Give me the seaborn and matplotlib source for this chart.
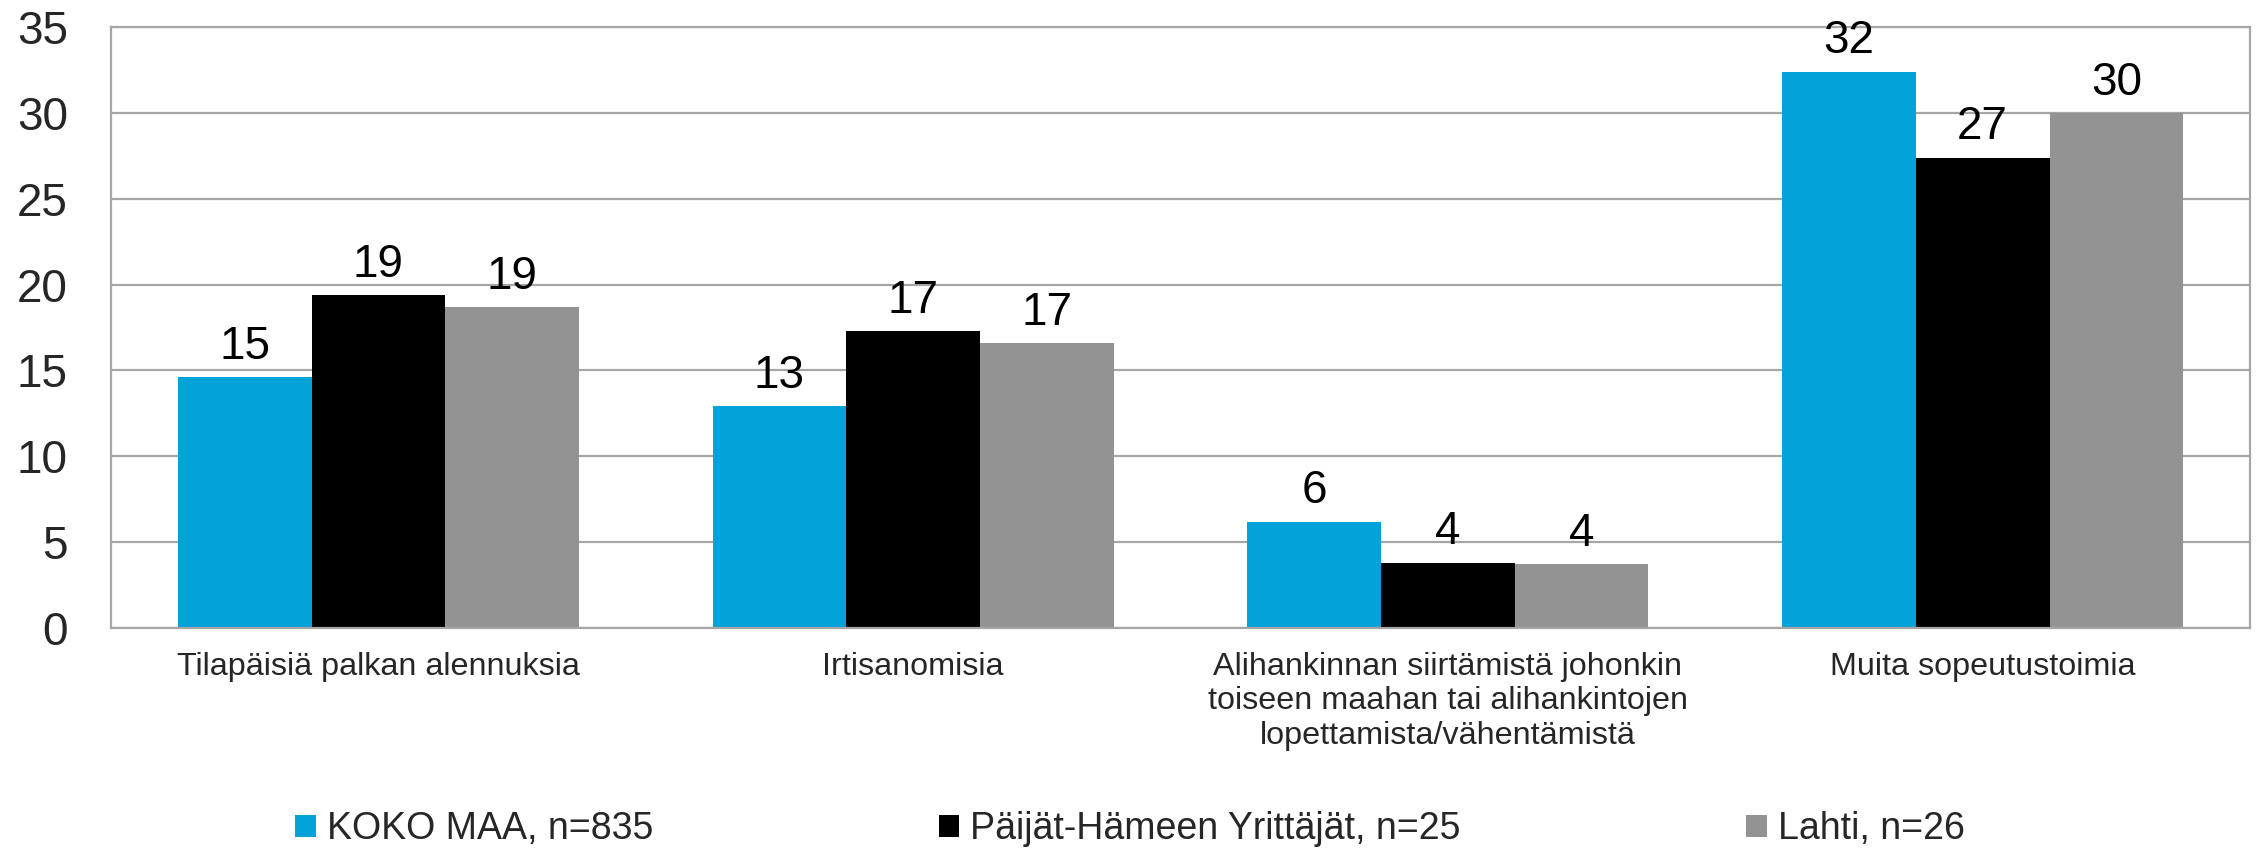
import matplotlib
matplotlib.use('Agg')
import matplotlib.pyplot as plt
import seaborn as sns
import pandas as pd

# Chart data
categories = [
    'Tilapäisiä palkan alennuksia',
    'Irtisanomisia',
    'Alihankinnan siirtämistä johonkin\ntoiseen maahan tai alihankintojen\nlopettamista/vähentämistä',
    'Muita sopeutustoimia',
]
series_names = ['KOKO MAA, n=835', 'Päijät-Hämeen Yrittäjät, n=25', 'Lahti, n=26']
koko_maa = [14.6, 12.9, 6.2, 32.4]
paijat_hame = [19.4, 17.3, 3.8, 27.4]
lahti = [18.7, 16.6, 3.7, 30.0]
y_ticks = [0, 5, 10, 15, 20, 25, 30, 35]

colors = ['#03A3D9', '#000000', '#939393']
grid_color = '#A6A6A6'

# Long format for seaborn
rows = []
for name, vals in zip(series_names, [koko_maa, paijat_hame, lahti]):
    for cat, v in zip(categories, vals):
        rows.append({'Kategoria': cat, 'Sarja': name, 'Arvo': v})
df = pd.DataFrame(rows)

sns.set_style('white')
plt.rcParams['font.family'] = ['Liberation Sans', 'DejaVu Sans']

fig = plt.figure(figsize=(22.6, 8.52), dpi=100)
ax = fig.add_axes([0.0491, 0.2629, 0.9465, 0.7054])

sns.barplot(data=df, x='Kategoria', y='Arvo', hue='Sarja', order=categories,
            hue_order=series_names, palette=colors, width=0.75, gap=0,
            saturation=1, errorbar=None, linewidth=0, ax=ax)

# Value labels above bars
for cont in ax.containers:
    ax.bar_label(cont, labels=[f"{round(b.get_height())}" for b in cont],
                 padding=6, fontsize=33, color='black')

ax.set_ylim(0, 35)
ax.set_xlim(-0.5, 3.5)
ax.set_yticks(y_ticks)
ax.set_yticklabels([str(t) for t in y_ticks])
ax.yaxis.grid(True, color=grid_color, linewidth=1.6)
ax.set_axisbelow(True)
ax.set_xlabel('')
ax.set_ylabel('')

for side in ['left', 'bottom', 'right', 'top']:
    ax.spines[side].set_visible(True)
    ax.spines[side].set_color(grid_color)
    ax.spines[side].set_linewidth(1.6)

ax.tick_params(axis='y', length=0, pad=31, labelsize=33)
ax.tick_params(axis='x', length=0, pad=17, labelsize=23.3)
for lbl in ax.get_xticklabels():
    lbl.set_linespacing(1.2)
    lbl.set_multialignment('center')

# Legend at the bottom
handles, labels = ax.get_legend_handles_labels()
ax.legend(handles, labels, loc='lower center', bbox_to_anchor=(0.5, -0.012),
          bbox_transform=fig.transFigure, ncol=3, frameon=False, fontsize=27,
          handlelength=0.55, handleheight=0.55, handletextpad=0.3,
          columnspacing=7.6, borderaxespad=0)

fig.savefig('out.png', dpi=100)
